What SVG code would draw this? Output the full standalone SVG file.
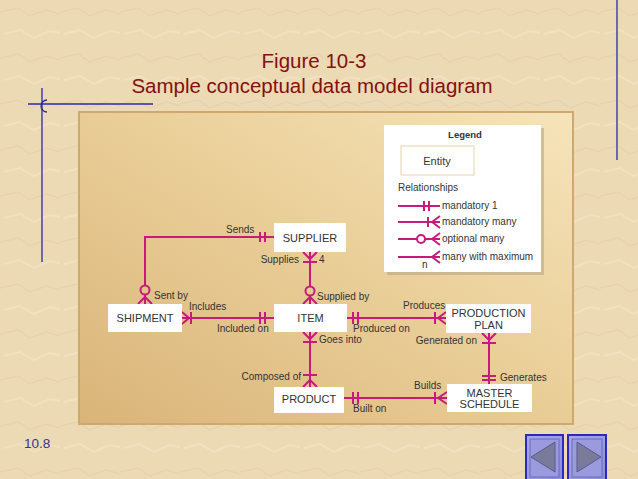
<svg xmlns="http://www.w3.org/2000/svg" width="638" height="479" viewBox="0 0 638 479">
<defs>
<linearGradient id="panel" x1="0" y1="1" x2="1" y2="0">
<stop offset="0" stop-color="#d9b479"/>
<stop offset="0.5" stop-color="#e9cd96"/>
<stop offset="1" stop-color="#f6e4ba"/>
</linearGradient>
<linearGradient id="btn" x1="0" y1="0" x2="1" y2="1">
<stop offset="0" stop-color="#a9a9e6"/>
<stop offset="1" stop-color="#8c8cd4"/>
</linearGradient>
<pattern id="tex" width="60" height="46" patternUnits="userSpaceOnUse">
<rect width="60" height="46" fill="#ecdab5"/>
<path d="M0 12 L18 8 L30 16 L46 10 L60 14" stroke="#dcc597" stroke-width="1.5" fill="none" opacity="0.35"/>
<path d="M4 34 L20 30 L34 38 L50 31 L60 33" stroke="#f5e8cc" stroke-width="2" fill="none" opacity="0.5"/>
</pattern>
</defs>
<style>
.t{font-family:"Liberation Sans",Arial,sans-serif;}
.title{font-size:20.5px;fill:#860f0f;text-anchor:middle;}
.ent{fill:#ffffff;}
.en{font-size:11px;fill:#333333;text-anchor:middle;}
.lb{font-size:10px;fill:#333333;}
.c{stroke:#c8197c;stroke-width:2;fill:none;}
.blue{stroke:#2a2aa8;stroke-width:1.3;fill:none;}
</style>
<rect width="638" height="479" fill="url(#tex)"/>
<!-- decorations -->
<line class="blue" x1="42" y1="88" x2="42" y2="262"/>
<line class="blue" x1="28" y1="104" x2="153" y2="104"/>
<path class="blue" d="M47 100 A6 6 0 1 0 47 112"/>
<line class="blue" x1="617" y1="0" x2="617" y2="160"/>
<text class="t title" x="314" y="68">Figure 10-3</text>
<text class="t title" x="312" y="93">Sample conceptual data model diagram</text>
<!-- panel -->
<rect x="79" y="112" width="494" height="312" fill="url(#panel)" stroke="#cfa86c" stroke-width="2"/>
<!-- legend -->
<g id="legend">
<rect x="387" y="128" width="157" height="147" fill="#b8a888" opacity="0.6"/>
<rect x="384" y="125" width="157" height="147" fill="#ffffff"/>
<text class="t" x="465" y="138" font-size="9.5" font-weight="bold" fill="#333" text-anchor="middle">Legend</text>
<rect x="401" y="146" width="73" height="29" fill="#fff" stroke="#e6d2a8" stroke-width="1"/>
<text class="t" x="437" y="165" font-size="11" fill="#333" text-anchor="middle">Entity</text>
<text class="t lb" x="398" y="191" font-size="9.5">Relationships</text>
<path class="c" d="M398 206H440M424 201V211M429 201V211"/>
<text class="t lb" x="442" y="209" font-size="9.5">mandatory 1</text>
<path class="c" d="M398 222H440M428 217V227M432 222L440 216M432 222L440 228"/>
<text class="t lb" x="442" y="225" font-size="9.5">mandatory many</text>
<path class="c" d="M398 239H417M425 239H440M432 239L440 233M432 239L440 245"/>
<circle class="c" cx="421" cy="239" r="4"/>
<text class="t lb" x="442" y="242" font-size="9.5">optional many</text>
<path class="c" d="M398 257H440M432 257L440 251M432 257L440 263"/>
<text class="t lb" x="422" y="268" font-size="9">n</text>
<text class="t lb" x="442" y="260" font-size="9.5">many with maximum</text>
</g>
<!-- connectors -->
<g id="connectors">
<!-- supplier - shipment -->
<path class="c" d="M274 237H145V285.5M145 294.5V304"/>
<path class="c" d="M260 232V242M265 232V242"/>
<circle class="c" cx="145" cy="290" r="4.5"/>
<path class="c" d="M145 297L138 304M145 297L152 304"/>
<!-- supplier - item -->
<path class="c" d="M310 252V286.5M310 295.5V304"/>
<path class="c" d="M310 259L303 252M310 259L317 252M303 262H317"/>
<circle class="c" cx="310" cy="291" r="4.5"/>
<path class="c" d="M310 297L303 304M310 297L317 304"/>
<!-- shipment - item -->
<path class="c" d="M182 318H274"/>
<path class="c" d="M189 318L182 312M189 318L182 324M191 312V324"/>
<path class="c" d="M260 312V324M265 312V324"/>
<!-- item - production plan -->
<path class="c" d="M347 318H446"/>
<path class="c" d="M353 312V324M358 312V324"/>
<path class="c" d="M435 312V324M438 318L446 312M438 318L446 324"/>
<!-- item - product -->
<path class="c" d="M310 332V387"/>
<path class="c" d="M310 339L303 332M310 339L317 332M303 342H317"/>
<path class="c" d="M303 375H317M310 380L303 387M310 380L317 387"/>
<!-- product - master schedule -->
<path class="c" d="M344 398H447"/>
<path class="c" d="M353 392V404M358 392V404"/>
<path class="c" d="M435 392V404M438 398L447 392M438 398L447 404"/>
<!-- production plan - master schedule -->
<path class="c" d="M489 333V384"/>
<path class="c" d="M489 340L482 333M489 340L496 333M482 343H496"/>
<path class="c" d="M482 376H496M482 380H496"/>
</g>
<g id="labels" class="t lb">
<text x="226" y="233">Sends</text>
<text x="154" y="299">Sent by</text>
<text x="299" y="263" text-anchor="end">Supplies</text>
<text x="319" y="263">4</text>
<text x="317" y="300">Supplied by</text>
<text x="189" y="310">Includes</text>
<text x="217" y="332">Included on</text>
<text x="403" y="309">Produces</text>
<text x="353" y="332">Produced on</text>
<text x="319" y="343">Goes into</text>
<text x="301" y="380" text-anchor="end">Composed of</text>
<text x="414" y="389">Builds</text>
<text x="353" y="412">Built on</text>
<text x="477" y="344" text-anchor="end">Generated on</text>
<text x="500" y="381">Generates</text>
</g>
<!-- entities -->
<g id="supplier"><rect class="ent" x="274" y="223" width="72" height="29"/><text class="t en" x="310" y="242">SUPPLIER</text></g>
<g id="shipment"><rect class="ent" x="108" y="304" width="74" height="28"/><text class="t en" x="145" y="322">SHIPMENT</text></g>
<g id="item"><rect class="ent" x="274" y="304" width="73" height="28"/><text class="t en" x="310.5" y="322">ITEM</text></g>
<g id="production-plan"><rect class="ent" x="446" y="304" width="85" height="29"/><text class="t en" x="488.5" y="317">PRODUCTION</text><text class="t en" x="488.5" y="329">PLAN</text></g>
<g id="master-schedule"><rect class="ent" x="447" y="384" width="85" height="28"/><text class="t en" x="489.5" y="397">MASTER</text><text class="t en" x="489.5" y="408">SCHEDULE</text></g>
<g id="product"><rect class="ent" x="274" y="387" width="70" height="26"/><text class="t en" x="309" y="403">PRODUCT</text></g>
<!-- footer -->
<text class="t" x="24" y="448" font-size="13.5" fill="#333399">10.8</text>
<g id="nav-prev">
<rect x="526" y="435" width="37" height="46" fill="url(#btn)" stroke="#2a2ac0" stroke-width="2"/>
<rect x="530" y="439" width="29" height="38" fill="#9a9ade" stroke="#6b6bc8" stroke-width="1"/>
<polygon points="531,457 555,442 555,472" fill="#7a7a9a" stroke="#5a5a90" stroke-width="1"/>
</g>
<g id="nav-next">
<rect x="568" y="435" width="38" height="46" fill="url(#btn)" stroke="#2a2ac0" stroke-width="2"/>
<rect x="572" y="439" width="30" height="38" fill="#9a9ade" stroke="#6b6bc8" stroke-width="1"/>
<polygon points="577,442 601,457 577,472" fill="#7a7a9a" stroke="#5a5a90" stroke-width="1"/>
</g>
</svg>
